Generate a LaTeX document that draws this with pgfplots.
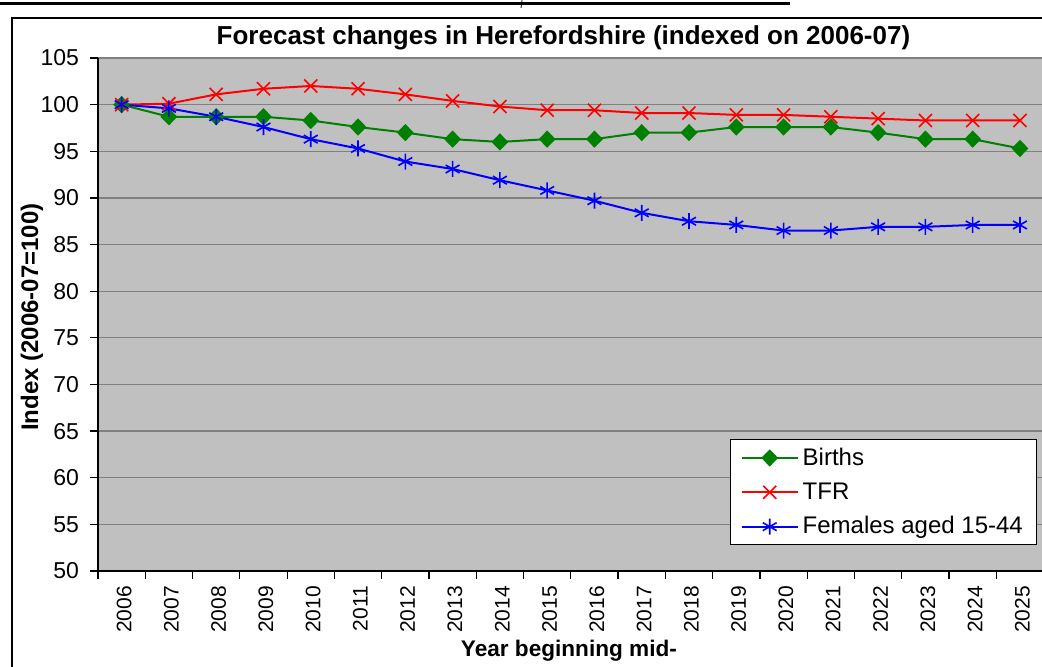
\documentclass[border=0pt]{standalone}
\usepackage{pgfplots}
\pgfplotsset{compat=1.18}
\usepackage{fontspec}
\setmainfont{Liberation Sans}
\definecolor{bgsilver}{HTML}{C0C0C0}
\definecolor{gridgray}{HTML}{808080}
\definecolor{bgreen}{HTML}{008000}
\begin{document}
\begin{tikzpicture}
\path[use as bounding box] (0,0) rectangle (521pt,333.5pt);
\clip (0,0) rectangle (521pt,333.5pt);
\fill[white] (0,0) rectangle (521pt,333.5pt);
\draw[line width=1.5pt] (0,331.8pt) -- (395pt,331.8pt);
\draw[line width=0.4pt] (261pt,333.5pt) -- (260.5pt,329.5pt);
\draw[line width=0.6pt] (6pt,-5pt) rectangle (530pt,324.5pt);
\begin{axis}[
  at={(49pt,48pt)}, anchor=south west,
  scale only axis, width=472.8pt, height=256.5pt,
  xmin=2005.5, xmax=2025.5, ymin=50, ymax=105,
  axis x line*=bottom, axis y line*=left,
  axis line style={-, black, line width=0.6pt},
  ymajorgrids, grid style={gridgray, line width=0.6pt},
  axis background/.style={fill=bgsilver},
  tick align=outside, major tick length=4pt,
  tick style={black, line width=0.6pt},
  ytick={50,55,60,65,70,75,80,85,90,95,100,105},
  xtick={2005.5,2006.5,2007.5,2008.5,2009.5,2010.5,2011.5,2012.5,2013.5,2014.5,2015.5,2016.5,2017.5,2018.5,2019.5,2020.5,2021.5,2022.5,2023.5,2024.5,2025.5},
  x tick label as interval,
  xticklabels={2006,2007,2008,2009,2010,2011,2012,2013,2014,2015,2016,2017,2018,2019,2020,2021,2022,2023,2024,2025},
  xticklabel style={rotate=90, anchor=east, yshift=-1.2pt, font=\fontsize{10.5}{12}\selectfont},
  yticklabel style={anchor=east, xshift=-2pt, font=\fontsize{11.5}{13}\selectfont},
  /pgf/number format/assume math mode=true,
  xlabel={Year beginning mid-},
  xlabel style={at={(axis description cs:0.498,-0.155)}, anchor=center, font=\fontsize{11.3}{13}\selectfont\bfseries},
  ylabel={Index (2006-07=100)},
  ylabel style={at={(axis description cs:-0.0698,0.495)}, anchor=center, rotate=0, font=\fontsize{12}{14}\selectfont\bfseries},
  legend style={at={(axis description cs:0.9935,0.257)}, anchor=north east, draw=black, fill=white, line width=0.6pt,
    font=\fontsize{12}{14}\selectfont, row sep=3.2pt, inner xsep=5pt, inner ysep=2pt},
  legend cell align=left,
  legend image code/.code={\draw[mark repeat=2,mark phase=2] plot coordinates {(0pt,0pt) (14pt,0pt) (28pt,0pt)};},
]
\addplot[bgreen, line width=1pt, mark=diamond*, mark size=3.6pt, mark options={fill=bgreen, solid, xscale=1.3}] coordinates {
(2006,100) (2007,98.7) (2008,98.7) (2009,98.7) (2010,98.3) (2011,97.6) (2012,97.0) (2013,96.3) (2014,96.0) (2015,96.3)
(2016,96.3) (2017,97.0) (2018,97.0) (2019,97.6) (2020,97.6) (2021,97.6) (2022,97.0) (2023,96.3) (2024,96.3) (2025,95.3)};
\addlegendentry{Births}
\addplot[red, line width=1pt, mark=x, mark size=4.6pt, mark options={line width=0.8pt}] coordinates {
(2006,100) (2007,100.1) (2008,101.1) (2009,101.7) (2010,102.0) (2011,101.7) (2012,101.1) (2013,100.4) (2014,99.8) (2015,99.4)
(2016,99.4) (2017,99.1) (2018,99.1) (2019,98.9) (2020,98.9) (2021,98.7) (2022,98.5) (2023,98.3) (2024,98.3) (2025,98.3)};
\addlegendentry{TFR}
\addplot[blue, line width=1pt, mark=asterisk, mark size=4pt, mark options={line width=0.8pt}] coordinates {
(2006,100) (2007,99.6) (2008,98.7) (2009,97.6) (2010,96.3) (2011,95.3) (2012,93.9) (2013,93.1) (2014,91.9) (2015,90.8)
(2016,89.7) (2017,88.4) (2018,87.5) (2019,87.1) (2020,86.5) (2021,86.5) (2022,86.9) (2023,86.9) (2024,87.1) (2025,87.1)};
\addlegendentry{Females aged 15-44}
\end{axis}
\node[font=\fontsize{13}{15}\selectfont\bfseries, anchor=center] at (281.75pt,314.5pt) {Forecast changes in Herefordshire (indexed on 2006-07)};
\end{tikzpicture}
\end{document}
